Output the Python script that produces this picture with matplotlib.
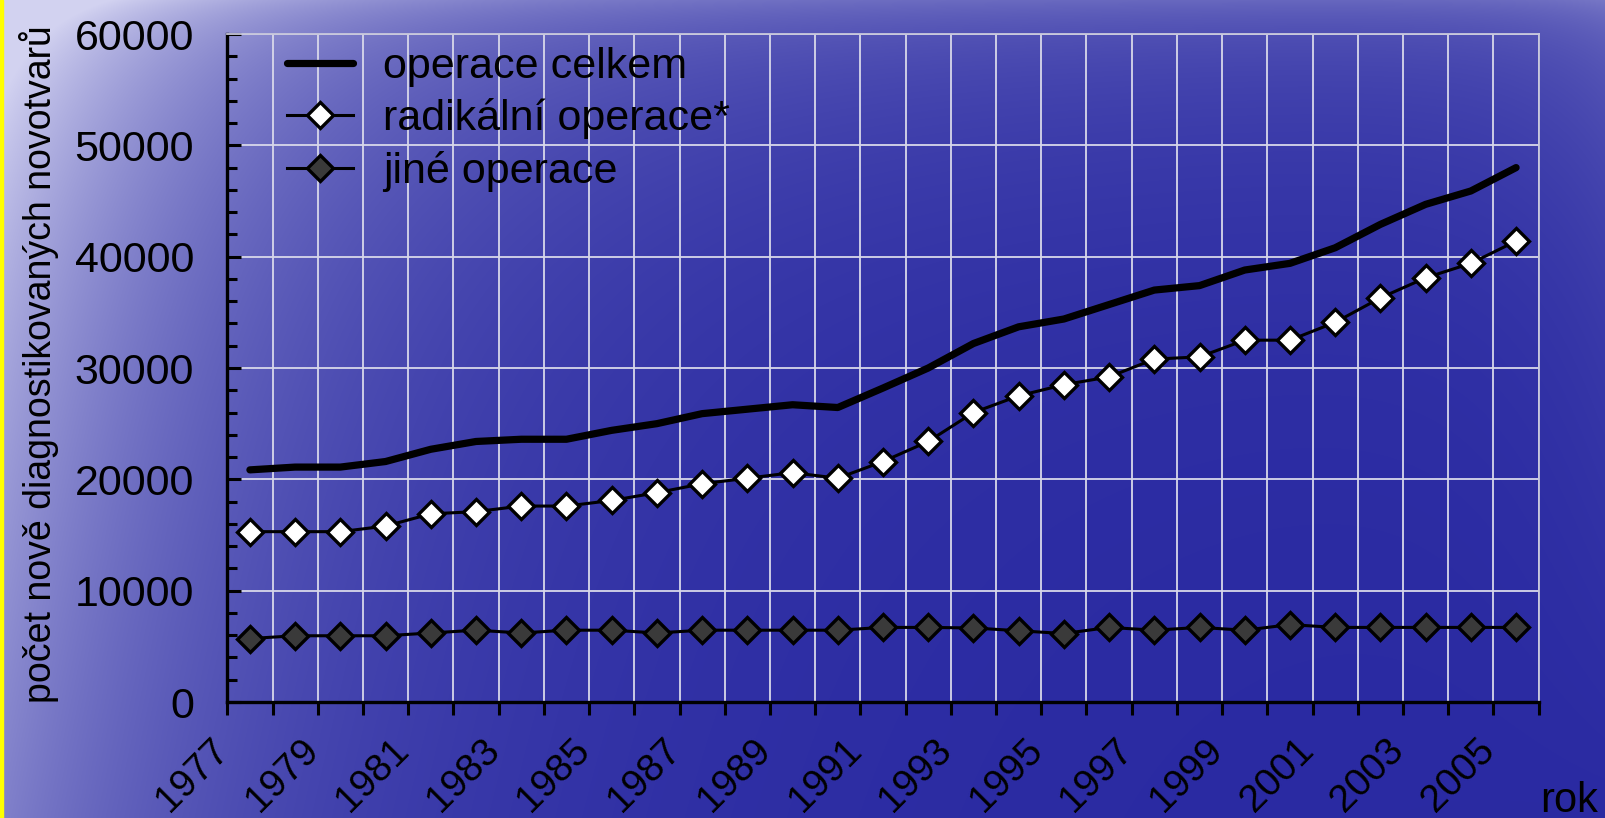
import numpy as np
import matplotlib
matplotlib.use('Agg')
import matplotlib.pyplot as plt
import matplotlib.transforms as mtrans
from matplotlib.ticker import MultipleLocator
from matplotlib.patches import Rectangle
from matplotlib import font_manager

# ---- data ----
years = list(range(1977, 2006))
celkem = [20850, 21100, 21100, 21600, 22700, 23400, 23600, 23600, 24400, 25000,
          25900, 26300, 26700, 26450, 28200, 30000, 32200, 33700, 34400, 35700,
          37000, 37400, 38800, 39400, 40800, 42900, 44700, 45900, 48000]
radikalni = [15300, 15300, 15300, 15800, 16900, 17100, 17600, 17600, 18100, 18800,
             19600, 20100, 20600, 20100, 21600, 23400, 26000, 27500, 28500, 29200,
             30800, 31000, 32500, 32500, 34100, 36300, 38100, 39400, 41400]
jine = [5700, 5950, 5950, 5950, 6200, 6450, 6200, 6450, 6450, 6200,
        6450, 6450, 6450, 6450, 6700, 6700, 6650, 6400, 6150, 6700,
        6450, 6700, 6450, 6950, 6700, 6700, 6700, 6700, 6700]
labels = ['operace celkem', 'radikální operace*', 'jiné operace']
ylabel = 'počet nově diagnostikovaných novotvarů'
xlabel = 'rok'

plt.rcParams['font.family'] = ['Liberation Sans', 'DejaVu Sans']
names = {f.name for f in font_manager.fontManager.ttflist}
if 'Liberation Sans Narrow' in names:
    ylab_font, ylab_size = ['Liberation Sans Narrow', 'DejaVu Sans'], 33
else:
    ylab_font, ylab_size = ['Liberation Sans', 'DejaVu Sans'], 27

W, H = 1605, 818
fig = plt.figure(figsize=(W / 100, H / 100), dpi=100)

# background: blue "water" gradient, light in the top-left corner
bg = fig.add_axes([0, 0, 1, 1], zorder=-10)
u = np.linspace(0, 1, W)[None, :]
v = np.linspace(0, 1, H)[:, None]
w = (0.80 * np.exp(-u / 0.16) * (1 - 0.4 * v)
     + 0.30 * np.exp(-v / 0.20) * (0.65 + 0.35 * np.exp(-u / 0.4))
     + 0.12 * np.exp(-v / 0.03)
     + 0.10 * np.exp(-(1 - u) / 0.05) * (1 - v)
     + 0.02)
w = np.clip(w, 0, 0.95)
base = np.array([38, 38, 160]) / 255.
light = np.array([220, 220, 245]) / 255.
img = base[None, None, :] + (light - base)[None, None, :] * w[:, :, None]
bg.imshow(img, aspect='auto', extent=(0, 1, 0, 1), origin='upper')
bg.set_xlim(0, 1); bg.set_ylim(0, 1)
bg.axis('off')
fig.patches.append(Rectangle((0, 0), 3 / W, 1, transform=fig.transFigure,
                             color='#ffff00', zorder=-5))

x0, x1, y0, y1 = 227.3, 1538.7, 34, 702
ax = fig.add_axes([x0 / W, 1 - y1 / H, (x1 - x0) / W, (y1 - y0) / H])
ax.patch.set_alpha(0)
x = np.arange(len(years))

ax.plot(x, celkem, color='black', lw=5.2, solid_capstyle='round',
        label=labels[0], zorder=5)
ax.plot(x, radikalni, color='black', lw=2.2, marker='D', ms=13,
        mfc='white', mec='black', mew=2.4, label=labels[1], zorder=4)
ax.plot(x, jine, color='black', lw=2.2, marker='D', ms=13,
        mfc='#3a3a3a', mec='black', mew=2.4, label=labels[2], zorder=4)

ax.set_xlim(-0.5, len(years) - 0.5)
ax.set_ylim(0, 60000)
ax.set_yticks(range(0, 60001, 10000))
ax.yaxis.set_minor_locator(MultipleLocator(2000))
ax.set_xticks(np.arange(len(years) + 1) - 0.5)
ax.set_xticklabels([])
ax.grid(True, which='major', color='#d8d8ea', lw=1.3, zorder=0)
ax.set_axisbelow(True)

for s in ['left', 'bottom']:
    ax.spines[s].set_color('black')
    ax.spines[s].set_linewidth(2.4)
for s in ['top', 'right']:
    ax.spines[s].set_color('#c8c8dc')
    ax.spines[s].set_linewidth(1.3)

ax.tick_params(axis='y', which='major', direction='in', length=10, width=2.2,
               labelsize=31, pad=24, colors='black')
ax.tick_params(axis='y', which='minor', direction='in', length=7, width=2.2)
ax.tick_params(axis='x', which='major', direction='out', length=9, width=2.2)

# rotated year labels, every second category
off = mtrans.ScaledTranslation(-0.40, -0.30, fig.dpi_scale_trans)
tr = mtrans.blended_transform_factory(ax.transData, ax.transAxes) + off
for i, yr in enumerate(years):
    if i % 2 == 0:
        ax.text(i, 0, str(yr), transform=tr, rotation=45, ha='right', va='top',
                rotation_mode='anchor', fontsize=28, clip_on=False)

fig.text(1598 / W, 1 - 812 / H, xlabel, fontsize=30, ha='right', va='baseline')
fig.text(39 / W, 1 - 364 / H, ylabel, rotation=90, ha='center', va='center',
         fontsize=ylab_size, family=ylab_font)

ax.legend(loc='upper left', bbox_to_anchor=(0.0455, 0.981), frameon=False,
          fontsize=31, handlelength=1.53, handletextpad=0.7, labelspacing=0.27,
          borderpad=0, borderaxespad=0)

fig.savefig('out.png', dpi=100)
